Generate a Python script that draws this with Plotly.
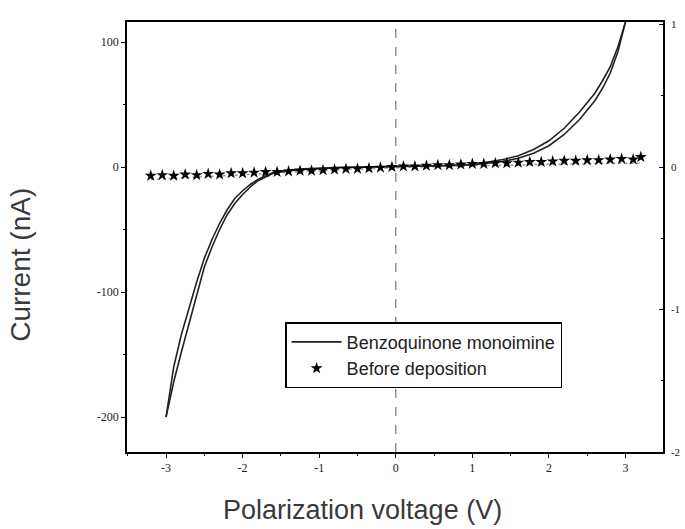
import plotly.graph_objects as go

# I-V sweeps of the junction after Benzoquinone monoimine deposition (nA)
bq_voltage = [-3.0, -2.9, -2.8, -2.7, -2.6, -2.5, -2.4, -2.3, -2.2, -2.1, -2.0, -1.9,
              -1.8, -1.7, -1.6, -1.5, -1.4, -1.2, -1.0, -0.8, -0.5, -0.2, 0.0, 0.2,
              0.5, 0.8, 1.0, 1.2, 1.4, 1.6, 1.8, 2.0, 2.2, 2.4, 2.6, 2.7, 2.8, 2.9, 3.0]
bq_forward = [-200, -172, -148, -125, -103, -80, -64, -50, -38, -29, -22, -16,
              -11, -8, -5, -4, -3, -2, -1, -0.6, -0.2, 0, 0.2, 0.5,
              1.0, 1.6, 2.2, 4, 6, 9, 14, 21, 31, 44, 59, 69, 80, 96, 116]
bq_backward = [-200, -160, -134, -112, -92, -73, -58, -45, -34, -25, -19, -14,
               -10, -7, -4.5, -3.5, -2.5, -1.5, -0.8, -0.4, -0.1, 0, 0.1, 0.3,
               0.8, 1.3, 1.8, 3, 4.5, 7, 11, 17, 26, 38, 53, 63, 75, 92, 116]

# Reference measurement before deposition (nA)
before_voltage = [-3.2, -3.05, -2.9, -2.75, -2.6, -2.45, -2.3, -2.15, -2.0, -1.85, -1.7,
                  -1.55, -1.4, -1.25, -1.1, -0.95, -0.8, -0.65, -0.5, -0.35, -0.2, -0.05,
                  0.1, 0.25, 0.4, 0.55, 0.7, 0.85, 1.0, 1.15, 1.3, 1.45, 1.6, 1.75,
                  1.9, 2.05, 2.2, 2.35, 2.5, 2.65, 2.8, 2.95, 3.1, 3.2]
before_current = [-7, -6.5, -7, -6, -6.5, -5.5, -6, -5, -5, -4.5, -4,
                  -4, -3.5, -3, -3, -2.5, -2, -1.5, -1.5, -1, -0.5, 0,
                  0.5, 0.5, 1, 1.5, 1.5, 2, 2.5, 2.5, 3, 3, 3.5, 4,
                  4, 4.5, 5, 5, 5.5, 5.5, 6, 6.5, 6, 8]
before_return = [-10, -9.5, -9, -8.5, -8.5, -8, -7.5, -7, -6.5, -6, -5.5,
                 -5, -4.5, -4, -3.5, -3, -2.5, -2, -1.5, -1.5, -1, -0.5,
                 -0.5, 0, 0, 0.5, 0.5, 1, 1, 1, 1.5, 1.5, 1.5, 2,
                 2, 2, 2.5, 2.5, 2.5, 3, 3, 3, 3, 3]

y_left_ticks = [100, 0, -100, -200]
y_right_ticks = [1, 0, -1, -2]
x_ticks = [-3, -2, -1, 0, 1, 2, 3]

fig = go.Figure()

fig.add_trace(go.Scatter(
    x=before_voltage, y=before_return, mode="lines",
    line=dict(color="#9a9a9a", width=1.5, dash="dot"),
    showlegend=False, hoverinfo="skip"))

fig.add_trace(go.Scatter(
    x=bq_voltage, y=bq_forward, mode="lines",
    line=dict(color="#222222", width=1.6),
    name="Benzoquinone monoimine"))
fig.add_trace(go.Scatter(
    x=bq_voltage, y=bq_backward, mode="lines",
    line=dict(color="#222222", width=1.6),
    showlegend=False))

fig.add_trace(go.Scatter(
    x=before_voltage, y=before_current, mode="markers",
    marker=dict(symbol="star", size=9, color="black"),
    name="Before deposition"))

# Secondary scale on the right-hand side
fig.add_trace(go.Scatter(x=[0], y=[0], yaxis="y2", mode="markers",
                         marker=dict(opacity=0), showlegend=False, hoverinfo="skip"))

fig.add_shape(type="line", xref="x", yref="paper", x0=0, x1=0, y0=0, y1=1,
              line=dict(color="#777777", width=1.2, dash="dash"))

# Axis titles
fig.add_annotation(text="Polarization voltage (V)", xref="paper", yref="paper",
                   x=0.44, y=-0.135, xanchor="center", yanchor="middle",
                   showarrow=False, font=dict(size=27, color="#3a3a3a"))
fig.add_annotation(text="Current (nA)", xref="paper", yref="paper",
                   x=-0.198, y=0.435, xanchor="center", yanchor="middle", textangle=-90,
                   showarrow=False, font=dict(size=28, color="#3a3a3a"))

tick_font = dict(family="Liberation Serif", size=12, color="#222222")
right_tick_font = dict(family="Liberation Serif", size=11, color="#222222")

fig.update_layout(
    width=685, height=529,
    margin=dict(l=127, r=22, t=22, b=77),
    paper_bgcolor="white", plot_bgcolor="white",
    font=dict(family="Liberation Sans", color="#333333"),
    xaxis=dict(
        range=[-3.51, 3.49], tickvals=x_ticks, ticktext=[str(v) for v in x_ticks],
        ticks="outside", ticklen=4, tickwidth=1, tickcolor="black",
        minor=dict(dtick=0.5, ticks="outside", ticklen=2, tickcolor="black"),
        showline=True, linecolor="black", linewidth=1.5, mirror=True,
        showgrid=False, zeroline=False, tickfont=tick_font, automargin=False),
    yaxis=dict(
        range=[-228, 116], tickvals=y_left_ticks, ticktext=[str(v) for v in y_left_ticks],
        ticks="outside", ticklen=4, tickwidth=1, tickcolor="black",
        minor=dict(dtick=50, ticks="outside", ticklen=2, tickcolor="black"),
        showline=True, linecolor="black", linewidth=1.5,
        showgrid=False, zeroline=False, tickfont=tick_font, automargin=False),
    yaxis2=dict(
        overlaying="y", side="right", range=[-2, 1.018],
        tickvals=y_right_ticks, ticktext=[str(v) for v in y_right_ticks],
        ticks="inside", ticklen=4, tickcolor="black", ticklabelstandoff=4,
        minor=dict(dtick=0.5, ticks="inside", ticklen=2, tickcolor="black"),
        showline=True, linecolor="black", linewidth=1.5,
        showgrid=False, zeroline=False, tickfont=right_tick_font, automargin=False),
    legend=dict(
        x=0.295, y=0.302, xanchor="left", yanchor="top",
        bgcolor="white", bordercolor="black", borderwidth=1.5,
        font=dict(size=18, color="#222222"), itemwidth=50, tracegroupgap=0),
    showlegend=True,
)

fig.write_html("out.html")
